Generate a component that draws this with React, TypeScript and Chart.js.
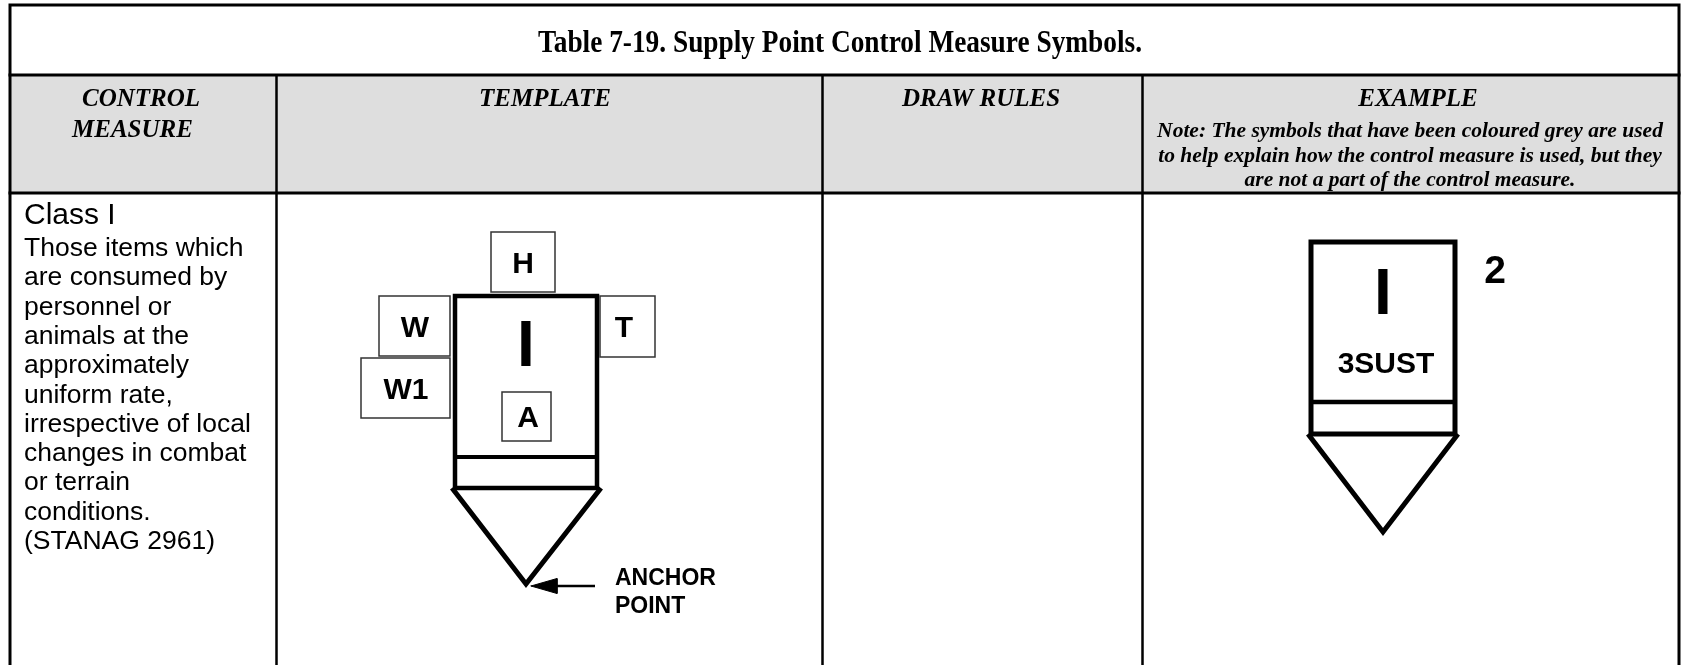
import React, { useEffect, useRef } from "react";
import { Chart, registerables } from "chart.js";

Chart.register(...registerables);

const PAGE_W = 1681;
const PAGE_H = 665;

// ---------- text content ----------
const titleText = "Table 7-19. Supply Point Control Measure Symbols.";
const headerLabels = ["CONTROL", "MEASURE", "TEMPLATE", "DRAW RULES", "EXAMPLE"];
const noteLines = [
  "Note: The symbols that have been coloured grey are used",
  "to help explain how the control measure is used, but they",
  "are not a part of the control measure.",
];
const classTitle = "Class I";
const classLines = [
  "Those items which",
  "are consumed by",
  "personnel or",
  "animals at the",
  "approximately",
  "uniform rate,",
  "irrespective of local",
  "changes in combat",
  "or terrain",
  "conditions.",
  "(STANAG 2961)",
];
const templateFields = ["H", "W", "T", "W1", "A"];
const classSymbol = "I";
const exampleFields = ["3SUST", "2"];
const anchorLines = ["ANCHOR", "POINT"];

// ---------- geometry (diagram coordinates, y downward) ----------
type P = [number, number];
const outerBorder: P[] = [[10, 665], [10, 5], [1679, 5], [1679, 665]];
const rowRules: P[][] = [
  [[10, 75], [1679, 75]],
  [[10, 193], [1679, 193]],
];
const columnRules: P[][] = [
  [[276.5, 75], [276.5, 665]],
  [[822.5, 75], [822.5, 665]],
  [[1142.5, 75], [1142.5, 665]],
];
const headerBand: P[] = [[10, 75], [1679, 75]];
const headerBandBottom = 193;

const templateFrame: P[] = [[455, 296], [597, 296], [597, 488], [455, 488], [455, 296]];
const templateDivider: P[] = [[455, 457], [597, 457]];
const templateSpike: P[] = [[452, 488], [526, 584], [601, 488]];
const fieldBoxes: P[][] = [
  [[491, 232], [555, 232], [555, 292], [491, 292], [491, 232]],
  [[379, 296], [450, 296], [450, 356], [379, 356], [379, 296]],
  [[600, 296], [655, 296], [655, 357], [600, 357], [600, 296]],
  [[361, 358], [450, 358], [450, 418], [361, 418], [361, 358]],
  [[502, 392], [551, 392], [551, 441], [502, 441], [502, 392]],
];
const arrowShaft: P[] = [[595, 586], [552, 586]];
const arrowHead: P[] = [[531, 586], [557, 578.5], [557, 593.5], [531, 586]];

const exampleFrame: P[] = [[1311, 242], [1455, 242], [1455, 434], [1311, 434], [1311, 242]];
const exampleDivider: P[] = [[1311, 402], [1455, 402]];
const exampleSpike: P[] = [[1308, 434], [1383, 532], [1458, 434]];

// ---------- text placement ----------
const serifBI = (s: number) => `italic bold ${s}px "Liberation Serif", "Times New Roman", serif`;
const serifB = (s: number) => `bold ${s}px "Liberation Serif", "Times New Roman", serif`;
const sans = (s: number) => `${s}px "Liberation Sans", Arial, sans-serif`;
const sansB = (s: number) => `bold ${s}px "Liberation Sans", Arial, sans-serif`;

type T = { text: string; x: number; y: number; font: string; align: CanvasTextAlign; maxWidth?: number };

const fieldAnchors: P[] = [[523, 273], [415, 337], [624, 337], [406, 399], [528, 427]];
const exampleAnchors: P[] = [[1386, 373], [1495, 283]];
const exampleFieldSizes = [30, 39];

function buildTexts(): T[] {
  const out: T[] = [];
  out.push({ text: titleText, x: 840, y: 52, font: serifB(31), align: "center", maxWidth: 604 });
  out.push({ text: headerLabels[0], x: 82, y: 106, font: serifBI(25), align: "left" });
  out.push({ text: headerLabels[1], x: 72, y: 137, font: serifBI(25), align: "left" });
  out.push({ text: headerLabels[2], x: 545, y: 106, font: serifBI(25), align: "center" });
  out.push({ text: headerLabels[3], x: 981, y: 106, font: serifBI(25), align: "center" });
  out.push({ text: headerLabels[4], x: 1418, y: 106, font: serifBI(25), align: "center" });
  const noteBase = [137, 162, 186];
  noteLines.forEach((t, i) =>
    out.push({ text: t, x: 1410, y: noteBase[i], font: serifBI(21.5), align: "center", maxWidth: 515 })
  );
  out.push({ text: classTitle, x: 24, y: 224, font: sans(30), align: "left" });
  classLines.forEach((t, i) =>
    out.push({ text: t, x: 24, y: 256 + i * 29.3, font: sans(26.5), align: "left" })
  );
  templateFields.forEach((t, i) =>
    out.push({ text: t, x: fieldAnchors[i][0], y: fieldAnchors[i][1], font: sansB(30), align: "center" })
  );
  out.push({ text: classSymbol, x: 526, y: 366, font: sansB(64), align: "center" });
  out.push({ text: classSymbol, x: 1383, y: 314, font: sansB(64), align: "center" });
  exampleFields.forEach((t, i) =>
    out.push({ text: t, x: exampleAnchors[i][0], y: exampleAnchors[i][1], font: sansB(exampleFieldSizes[i]), align: "center" })
  );
  out.push({ text: anchorLines[0], x: 615, y: 585, font: sansB(23), align: "left" });
  out.push({ text: anchorLines[1], x: 615, y: 613, font: sansB(23), align: "left" });
  return out;
}

const textPlugin = {
  id: "tableText",
  afterDatasetsDraw(chart: any) {
    const { ctx, scales } = chart;
    const sx = scales.x;
    const sy = scales.y;
    ctx.save();
    ctx.fillStyle = "#000";
    ctx.textBaseline = "alphabetic";
    for (const t of buildTexts()) {
      ctx.font = t.font;
      ctx.textAlign = t.align;
      const px = sx.getPixelForValue(t.x);
      const py = sy.getPixelForValue(t.y);
      if (t.maxWidth) ctx.fillText(t.text, px, py, t.maxWidth);
      else ctx.fillText(t.text, px, py);
    }
    ctx.restore();
  },
};

function poly(points: P[], width: number, color = "#000", extra: any = {}) {
  return {
    type: "scatter",
    data: points.map(([x, y]) => ({ x, y })),
    showLine: true,
    borderColor: color,
    borderWidth: width,
    backgroundColor: color,
    pointRadius: 0,
    pointHoverRadius: 0,
    tension: 0,
    fill: false,
    borderCapStyle: "square",
    borderJoinStyle: "miter",
    clip: false,
    order: 1,
    ...extra,
  };
}

export default function App() {
  const ref = useRef<HTMLCanvasElement | null>(null);
  useEffect(() => {
    document.body.style.margin = "0";
    const datasets: any[] = [];
    datasets.push(
      poly(headerBand, 0, "#dedede", {
        fill: { value: headerBandBottom },
        backgroundColor: "#dedede",
        borderWidth: 0,
        order: 10,
      })
    );
    datasets.push(poly(outerBorder, 3));
    rowRules.forEach((r) => datasets.push(poly(r, 3)));
    columnRules.forEach((r) => datasets.push(poly(r, 2.5, "#000", { borderCapStyle: "butt" })));
    fieldBoxes.forEach((b) => datasets.push(poly(b, 1.5, "#333")));
    datasets.push(poly(templateFrame, 4.5));
    datasets.push(poly(templateDivider, 4, "#000", { borderCapStyle: "butt" }));
    datasets.push(poly(templateSpike, 5, "#000", { borderCapStyle: "butt" }));
    datasets.push(poly(arrowShaft, 2.5, "#000", { borderCapStyle: "butt" }));
    datasets.push(poly(arrowHead, 1, "#000", { fill: "shape", backgroundColor: "#000" }));
    datasets.push(poly(exampleFrame, 5));
    datasets.push(poly(exampleDivider, 4.5, "#000", { borderCapStyle: "butt" }));
    datasets.push(poly(exampleSpike, 5, "#000", { borderCapStyle: "butt" }));

    const chart = new Chart(ref.current as HTMLCanvasElement, {
      type: "scatter",
      data: { datasets },
      options: {
        responsive: false,
        maintainAspectRatio: false,
        animation: false,
        devicePixelRatio: 1,
        events: [],
        layout: { padding: 0 },
        scales: {
          x: { type: "linear", min: 0, max: PAGE_W, display: false },
          y: { type: "linear", min: 0, max: PAGE_H, reverse: true, display: false },
        },
        plugins: {
          legend: { display: false },
          tooltip: { enabled: false },
          title: { display: false },
        },
      } as any,
      plugins: [textPlugin as any],
    } as any);
    return () => chart.destroy();
  }, []);
  return (
    <div style={{ position: "fixed", left: 0, top: 0, width: PAGE_W, height: PAGE_H, background: "#fff" }}>
      <canvas ref={ref} width={PAGE_W} height={PAGE_H} style={{ display: "block", width: PAGE_W, height: PAGE_H }} />
    </div>
  );
}
